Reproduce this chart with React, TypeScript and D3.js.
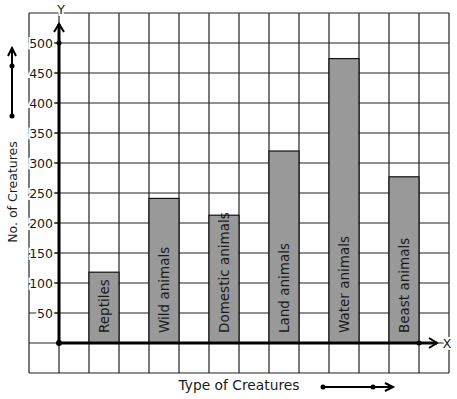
import React from "react";
import * as d3 from "d3";

// values
const categories = [
  "Reptiles",
  "Wild animals",
  "Domestic animals",
  "Land animals",
  "Water animals",
  "Beast animals",
];
const counts = [118, 241, 213, 320, 474, 277];
const yTicks = [50, 100, 150, 200, 250, 300, 350, 400, 450, 500];

const W = 457;
const H = 399;
const FONT = "DejaVu Sans, sans-serif";
const INK = "#1a1a1a";

const App = () => {
  // grid is 14 x 12 squares of 30px
  const gx = d3.scaleLinear().domain([0, 14]).range([29, 449]);
  const gy = d3.scaleLinear().domain([0, 12]).range([13, 373]);
  const y = d3.scaleLinear().domain([-50, 550]).range([373, 13]);
  const x = d3
    .scaleBand<string>()
    .domain(categories)
    .range([gx(2), gx(13)])
    .paddingInner(0.5)
    .paddingOuter(0);

  const x0 = gx(1);
  const y0 = y(0);

  const halo = {
    stroke: "#fff",
    strokeWidth: 4,
    paintOrder: "stroke" as const,
  };

  return (
    <svg
      width={W}
      height={H}
      style={{ position: "fixed", left: 0, top: 0, background: "#fff" }}
      fontFamily={FONT}
    >
      {/* grid */}
      <g stroke="#222" strokeWidth={1.2}>
        {d3.range(15).map((i) => (
          <line key={"v" + i} x1={gx(i)} x2={gx(i)} y1={gy(0)} y2={gy(12)} />
        ))}
        {d3.range(13).map((i) => (
          <line key={"h" + i} x1={gx(0)} x2={gx(14)} y1={gy(i)} y2={gy(i)} />
        ))}
      </g>

      {/* bars */}
      {categories.map((c, i) => (
        <g key={c}>
          <rect
            x={x(c)}
            y={y(counts[i])}
            width={x.bandwidth()}
            height={y0 - y(counts[i])}
            fill="#999"
            stroke="#111"
            strokeWidth={1.2}
          />
          <text
            transform={`translate(${x(c)! + x.bandwidth() / 2 + 5},${y0 - 10}) rotate(-90)`}
            fontSize={13.5}
            fill={INK}
          >
            {c}
          </text>
        </g>
      ))}

      {/* y tick labels */}
      {yTicks.map((t) => (
        <g key={t}>
          <line x1={x0 - 8} x2={x0} y1={y(t)} y2={y(t)} stroke="#222" strokeWidth={1.2} />
          <text
            x={x0 - 6}
            y={y(t) + 4.5}
            textAnchor="end"
            fontSize={12.5}
            fill={INK}
            {...halo}
          >
            {t}
          </text>
        </g>
      ))}

      {/* axes */}
      <g stroke="#000" strokeWidth={3} fill="none">
        <line x1={x0} x2={x0} y1={y0} y2={24} />
        <path d={`M${x0 - 5},32 L${x0},24 L${x0 + 5},32`} strokeWidth={2} />
        <line x1={x0} x2={437} y1={y0} y2={y0} />
        <path d={`M429,${y0 - 5} L437,${y0} L429,${y0 + 5}`} strokeWidth={2} />
      </g>
      <g fill="#000">
        <circle cx={x0} cy={y(500)} r={2.5} />
        <circle cx={x0} cy={y0} r={3} />
        <circle cx={gx(13)} cy={y0} r={2.5} />
      </g>
      <text x={61} y={14} textAnchor="middle" fontSize={12.5} fill={INK} {...halo}>
        Y
      </text>
      <text x={447} y={348} textAnchor="middle" fontSize={12.5} fill={INK} {...halo}>
        X
      </text>

      {/* axis titles */}
      <text
        transform={`translate(17,192) rotate(-90)`}
        textAnchor="middle"
        fontSize={12.5}
        fill={INK}
      >
        No. of Creatures
      </text>
      <g stroke="#000" strokeWidth={2} fill="none">
        <line x1={12} x2={12} y1={116} y2={48} />
        <path d="M8,56 L12,48 L16,56" />
      </g>
      <circle cx={12} cy={66} r={2.5} fill="#000" />
      <circle cx={12} cy={116} r={2.5} fill="#000" />

      <text x={239} y={390} textAnchor="middle" fontSize={13.8} fill={INK}>
        Type of Creatures
      </text>
      <g stroke="#000" strokeWidth={2} fill="none">
        <line x1={323} x2={393} y1={387} y2={387} />
        <path d="M385,383 L393,387 L385,391" />
      </g>
      <circle cx={323} cy={387} r={2.5} fill="#000" />
      <circle cx={373} cy={387} r={2.5} fill="#000" />
    </svg>
  );
};

export default App;
